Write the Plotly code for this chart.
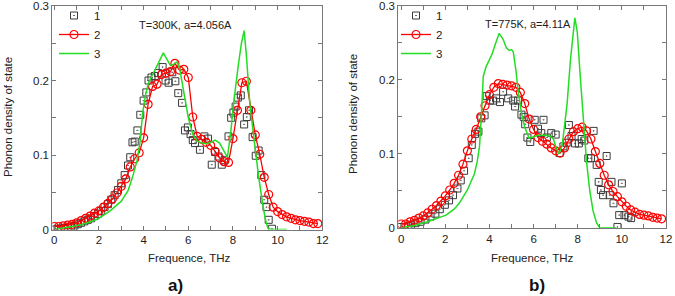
import plotly.graph_objects as go

# ---------------- data: panel a) T=300K ----------------
a_sq_x = [0.0, 0.15, 0.3, 0.45, 0.6, 0.75, 0.9, 1.05, 1.2, 1.35, 1.5, 1.65, 1.8, 1.95, 2.1, 2.25,
          2.4, 2.55, 2.7, 2.85, 3.0, 3.15, 3.3, 3.4, 3.5, 3.6, 3.72, 3.85, 4.0, 4.12, 4.22, 4.35,
          4.5, 4.65, 4.85, 4.98, 5.12, 5.28, 5.42, 5.55, 5.72, 5.85, 5.98, 6.1, 6.2, 6.3, 6.52,
          6.72, 6.88, 7.05, 7.2, 7.35, 7.5, 7.62, 7.8, 7.92, 8.02, 8.12, 8.22, 8.35, 8.5, 8.62,
          8.72, 8.88, 9.02, 9.15, 9.27, 9.4, 9.5, 9.6, 9.75]
a_sq_y = [0.000, 0.001, 0.001, 0.002, 0.003, 0.004, 0.005, 0.007, 0.009, 0.011, 0.013, 0.015,
          0.018, 0.021, 0.025, 0.030, 0.034, 0.040, 0.046, 0.053, 0.062, 0.073, 0.086, 0.097,
          0.117, 0.118, 0.133, 0.154, 0.173, 0.184, 0.200, 0.204, 0.206, 0.210, 0.218, 0.200,
          0.197, 0.211, 0.199, 0.183, 0.170, 0.133, 0.137, 0.128, 0.120, 0.116, 0.107, 0.125,
          0.122, 0.087, 0.104, 0.098, 0.087, 0.093, 0.125, 0.150, 0.157, 0.165, 0.177, 0.180,
          0.141, 0.151, 0.160, 0.124, 0.099, 0.106, 0.073, 0.040, 0.030, 0.013, 0.001]

a_ci_x = [round(0.2 * i, 1) for i in range(60)]
a_ci_y = [0.004, 0.004, 0.005, 0.006, 0.007, 0.009, 0.012, 0.015, 0.018, 0.022,
          0.025, 0.030, 0.035, 0.041, 0.049, 0.058, 0.068, 0.084, 0.095, 0.103,
          0.123, 0.168, 0.192, 0.195, 0.208, 0.210, 0.212, 0.223, 0.214, 0.215,
          0.204, 0.151, 0.125, 0.121, 0.117, 0.113, 0.105, 0.096, 0.091, 0.090,
          0.122, 0.160, 0.197, 0.199, 0.160, 0.127, 0.101, 0.070, 0.047, 0.030,
          0.024, 0.020, 0.017, 0.015, 0.013, 0.012, 0.011, 0.010, 0.008, 0.008]

a_ln_x = [0.0, 0.5, 1.0, 1.5, 2.0, 2.5, 3.0, 3.3, 3.5, 3.7, 3.85, 3.95, 4.08, 4.22, 4.45, 4.67,
          4.88, 5.05, 5.2, 5.35, 5.5, 5.62, 5.8, 6.0, 6.2, 6.4, 6.6, 6.8, 7.0, 7.2, 7.4, 7.6,
          7.75, 7.9, 8.02, 8.24, 8.38, 8.5, 8.6, 8.76, 8.99, 9.14, 9.29, 9.44, 9.56, 9.7, 10.4]
a_ln_y = [0.000, 0.002, 0.005, 0.009, 0.015, 0.025, 0.038, 0.052, 0.070, 0.092, 0.120, 0.155,
          0.180, 0.197, 0.210, 0.224, 0.237, 0.228, 0.220, 0.222, 0.225, 0.215, 0.185, 0.150,
          0.128, 0.119, 0.116, 0.115, 0.117, 0.120, 0.116, 0.106, 0.097, 0.130, 0.167, 0.221,
          0.250, 0.267, 0.234, 0.167, 0.109, 0.073, 0.042, 0.015, 0.002, 0.000, 0.000]

# ---------------- data: panel b) T=775K ----------------
b_sq_x = [0.0, 0.15, 0.3, 0.45, 0.65, 0.88, 1.1, 1.33, 1.55, 1.75, 1.98, 2.17, 2.35, 2.55, 2.7,
          2.85, 3.06, 3.2, 3.35, 3.5, 3.63, 3.78, 3.87, 4.02, 4.17, 4.3, 4.48, 4.62, 4.85, 5.08,
          5.16, 5.3, 5.45, 5.55, 5.62, 5.72, 5.85, 6.05, 6.2, 6.35, 6.45, 6.6, 6.8, 7.0, 7.18,
          7.35, 7.5, 7.6, 7.72, 7.88, 8.05, 8.18, 8.3, 8.48, 8.6, 8.72, 8.86, 8.95, 9.05, 9.15,
          9.31, 9.45, 9.53, 9.62, 9.8, 9.88, 10.0, 10.12, 10.3, 10.42]
b_sq_y = [0.001, 0.001, 0.002, 0.004, 0.006, 0.008, 0.011, 0.015, 0.019, 0.025, 0.031, 0.037,
          0.044, 0.053, 0.064, 0.077, 0.094, 0.112, 0.127, 0.130, 0.148, 0.152, 0.178, 0.172,
          0.172, 0.175, 0.170, 0.184, 0.175, 0.172, 0.164, 0.172, 0.153, 0.150, 0.140, 0.122,
          0.116, 0.146, 0.134, 0.128, 0.146, 0.122, 0.128, 0.126, 0.101, 0.110, 0.115, 0.139,
          0.124, 0.114, 0.114, 0.120, 0.118, 0.094, 0.094, 0.131, 0.085, 0.062, 0.051, 0.044,
          0.097, 0.044, 0.062, 0.033, 0.001, 0.017, 0.060, 0.017, 0.015, 0.013]

b_ci_x = [round(0.2 * i, 1) for i in range(60)]
b_ci_y = [0.005, 0.005, 0.008, 0.010, 0.013, 0.016, 0.020, 0.025, 0.030, 0.036,
          0.043, 0.051, 0.060, 0.071, 0.086, 0.104, 0.120, 0.133, 0.150, 0.165,
          0.180, 0.190, 0.195, 0.194, 0.193, 0.192, 0.190, 0.183, 0.168, 0.147,
          0.133, 0.122, 0.117, 0.113, 0.108, 0.104, 0.101, 0.108, 0.120, 0.130,
          0.134, 0.136, 0.131, 0.120, 0.103, 0.087, 0.071, 0.058, 0.049, 0.042,
          0.035, 0.029, 0.024, 0.021, 0.018, 0.017, 0.016, 0.014, 0.013, 0.012]

b_ln_x = [0.0, 0.6, 1.2, 1.6, 2.03, 2.4, 2.63, 3.0, 3.32, 3.45, 3.55, 3.65, 3.72, 3.85, 4.0, 4.12,
          4.25, 4.44, 4.62, 4.77, 4.9, 5.0, 5.08, 5.2, 5.3, 5.45, 5.6, 5.8, 6.0, 6.2, 6.5, 6.74,
          6.9, 7.0, 7.15, 7.3, 7.52, 7.67, 7.87, 7.98, 8.1, 8.25, 8.4, 8.55, 8.7, 8.86, 9.0, 9.76]
b_ln_y = [0.000, 0.003, 0.008, 0.012, 0.017, 0.025, 0.033, 0.051, 0.073, 0.090, 0.110, 0.160,
          0.205, 0.218, 0.227, 0.235, 0.247, 0.263, 0.255, 0.243, 0.240, 0.241, 0.238, 0.213,
          0.185, 0.155, 0.136, 0.121, 0.123, 0.125, 0.125, 0.124, 0.120, 0.110, 0.100, 0.112,
          0.168, 0.227, 0.284, 0.265, 0.211, 0.143, 0.089, 0.049, 0.022, 0.006, 0.000, 0.000]

series_names = ["1", "2", "3"]
x_tick_vals = list(range(0, 13))
x_tick_text = ["0", "", "2", "", "4", "", "6", "", "8", "", "10", "", "12"]
y_tick_vals = [0, 0.05, 0.1, 0.15, 0.2, 0.25, 0.3]
y_tick_text = ["0", "", "0.1", "", "0.2", "", "0.3"]
panel_notes = ["T=300K, a=4.056A", "T=775K, a=4.11A"]
panel_labels = ["a)", "b)"]
x_title = "Frequence, THz"
y_title = "Phonon density of state"

# ---------------- style ----------------
W, H = 675, 296
FONT = "Liberation Sans, Arial, sans-serif"
SQ_COLOR = "#3a3a3a"
RED = "#ff0000"
GREEN = "#22dd22"
AXIS_COLOR = "#777777"
TEXT_COLOR = "#222222"


def px(xp):
    return xp / W


def py(yp):
    return 1 - yp / H


fig = go.Figure()

panels = [
    (a_sq_x, a_sq_y, a_ci_x, a_ci_y, a_ln_x, a_ln_y, "x", "y", "legend"),
    (b_sq_x, b_sq_y, b_ci_x, b_ci_y, b_ln_x, b_ln_y, "x2", "y2", "legend2"),
]
for sqx, sqy, cix, ciy, lnx, lny, xa, ya, lg in panels:
    fig.add_trace(go.Scatter(x=sqx, y=sqy, mode="markers", name=series_names[0],
                             xaxis=xa, yaxis=ya, legend=lg,
                             marker=dict(symbol="square-open-dot", size=7, color=SQ_COLOR,
                                         line=dict(width=1, color=SQ_COLOR))))
    fig.add_trace(go.Scatter(x=cix, y=ciy, mode="lines+markers", name=series_names[1],
                             xaxis=xa, yaxis=ya, legend=lg,
                             line=dict(color=RED, width=1.3),
                             marker=dict(symbol="circle-open", size=8, color=RED,
                                         line=dict(width=1.2, color=RED))))
    fig.add_trace(go.Scatter(x=lnx, y=lny, mode="lines", name=series_names[2],
                             xaxis=xa, yaxis=ya, legend=lg,
                             line=dict(color=GREEN, width=1.5)))

axis_common = dict(showline=True, linecolor=AXIS_COLOR, linewidth=1, mirror="ticks",
                   ticks="inside", ticklen=4, tickcolor=AXIS_COLOR, tickwidth=1,
                   showgrid=False, zeroline=False, automargin=False,
                   tickfont=dict(family=FONT, size=11.5, color=TEXT_COLOR))

legend_common = dict(xanchor="left", yanchor="top", bgcolor="rgba(0,0,0,0)",
                     itemwidth=30, tracegroupgap=0,
                     font=dict(family=FONT, size=11.5, color=TEXT_COLOR))

fig.update_layout(
    template="none",
    width=W, height=H,
    margin=dict(l=0, r=0, t=0, b=0, autoexpand=False),
    paper_bgcolor="white", plot_bgcolor="white",
    font=dict(family=FONT, color=TEXT_COLOR),
    xaxis=dict(domain=[px(52.3), px(322.3)], range=[-0.09, 12.0], anchor="y",
               tickvals=x_tick_vals, ticktext=x_tick_text, **axis_common),
    yaxis=dict(domain=[py(229.5), py(6)], range=[0, 0.3], anchor="x",
               tickvals=y_tick_vals, ticktext=y_tick_text, **axis_common),
    xaxis2=dict(domain=[px(398.3), px(666)], range=[-0.13, 12.0], anchor="y2",
                tickvals=x_tick_vals, ticktext=x_tick_text, **axis_common),
    yaxis2=dict(domain=[py(227.7), py(6)], range=[0, 0.3], anchor="x2",
                tickvals=y_tick_vals, ticktext=y_tick_text, **axis_common),
    legend=dict(x=px(54), y=py(1), **legend_common),
    legend2=dict(x=px(396), y=py(1), **legend_common),
    showlegend=True,
)

ann = []
common_ann = dict(xref="paper", yref="paper", xanchor="center", yanchor="middle",
                  showarrow=False)
# in-plot notes
ann.append(dict(text=panel_notes[0], x=px(185), y=py(24.5),
                font=dict(family=FONT, size=11, color=TEXT_COLOR), **common_ann))
ann.append(dict(text=panel_notes[1], x=px(528), y=py(23.5),
                font=dict(family=FONT, size=11, color=TEXT_COLOR), **common_ann))
# axis titles
for xc in (188.5, 532):
    ann.append(dict(text=x_title, x=px(xc), y=py(258),
                    font=dict(family=FONT, size=11.5, color=TEXT_COLOR), **common_ann))
for xc, yc in ((8, 117), (353, 114)):
    ann.append(dict(text=y_title, x=px(xc), y=py(yc), textangle=-90,
                    font=dict(family=FONT, size=11.5, color=TEXT_COLOR), **common_ann))
# panel labels
for lab, xc in zip(panel_labels, (176, 537)):
    ann.append(dict(text="<b>" + lab + "</b>", x=px(xc), y=py(285),
                    font=dict(family=FONT, size=17, color="#111111"), **common_ann))
fig.update_layout(annotations=ann)

fig.write_html("out.html", config={"displayModeBar": False},
               post_script="document.body.style.margin='0px';")
